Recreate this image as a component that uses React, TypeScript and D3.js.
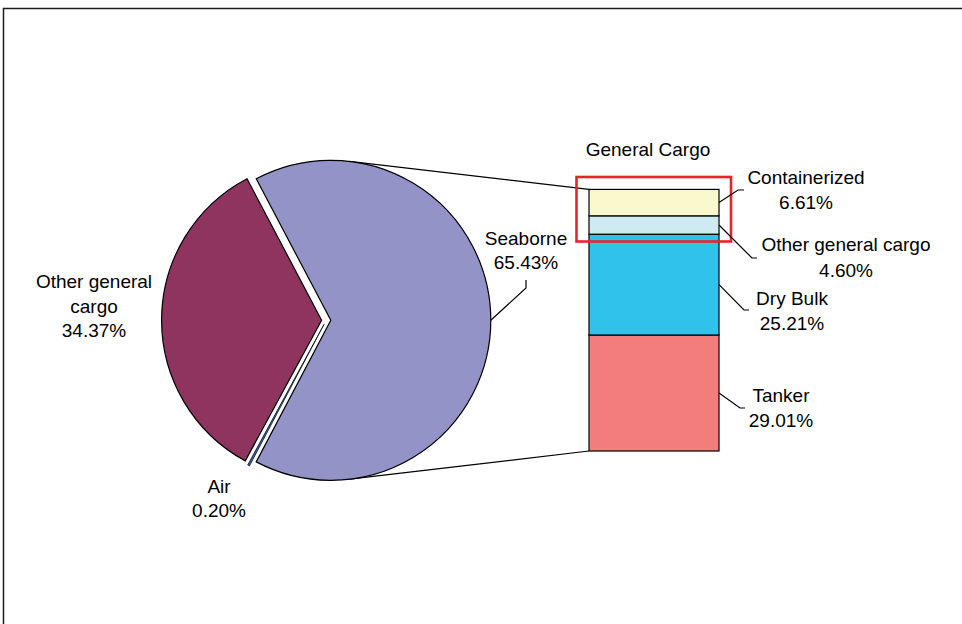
import React from "react";
import * as d3 from "d3";

// Share of trade by transport mode (pie) and breakdown of the seaborne share (bar)
const pieCategories = ["Seaborne", "Air", "Other general cargo"];
const pieValues = [65.43, 0.2, 34.37];
const pieColors = ["#9393C7", "#3A5CA8", "#8F335F"];

// Seaborne breakdown, stacked from the bottom up
const barCategories = ["Tanker", "Dry Bulk", "Other general cargo", "Containerized"];
const barValues = [29.01, 25.21, 4.6, 6.61];
const barColors = ["#F27D7C", "#31C2EC", "#CDEBF0", "#FAF8CD"];

const barTitle = "General Cargo";

const W = 962;
const H = 624;
const FONT = "'Liberation Sans', Arial, Helvetica, sans-serif";
const FS = 19;

export default function App() {
  const cx = 326.2;
  const cy = 320.3;
  const r = 160;
  const explode = 4.6;

  const seaFrac = pieValues[0] / d3.sum(pieValues);
  const start = Math.PI / 2 - seaFrac * Math.PI;
  const pie = d3
    .pie<number>()
    .sort(null)
    .value((d) => d)
    .startAngle(start)
    .endAngle(start + 2 * Math.PI);
  const arcs = pie(pieValues);
  const arc = d3.arc<d3.PieArcDatum<number>>().innerRadius(0).outerRadius(r);

  const offsets = arcs.map((a) => {
    const mid = (a.startAngle + a.endAngle) / 2;
    return [explode * Math.sin(mid), -explode * Math.cos(mid)];
  });

  // Bar geometry
  const barX0 = 589;
  const barX1 = 719;
  const total = d3.sum(barValues);
  const y = d3.scaleLinear().domain([0, total]).range([451, 189.4]);
  const cum: number[] = [];
  barValues.reduce((acc, v) => {
    cum.push(acc);
    return acc + v;
  }, 0);

  // Seaborne slice centre, used for the connector tangents
  const sx = cx + offsets[0][0];
  const sy = cy + offsets[0][1];
  const tangent = (px: number, py: number, sign: number) => {
    const dx = px - sx;
    const dy = py - sy;
    const d = Math.hypot(dx, dy);
    const base = Math.atan2(dy, dx);
    const t = base + sign * Math.acos(r / d);
    return [sx + r * Math.cos(t), sy + r * Math.sin(t)];
  };
  const topT = tangent(barX0, y(total), -1);
  const botT = tangent(barX0, y(0), 1);

  // Seaborne leader anchor on the slice's outer edge
  const seaMid = (arcs[0].startAngle + arcs[0].endAngle) / 2;
  const seaAnchor = [sx + r * Math.sin(seaMid), sy - r * Math.cos(seaMid)];

  const pct = (v: number) => `${v.toFixed(2)}%`;

  // Right-hand label layout for each bar segment
  const barLabelLayout = [
    { elbow: [740, 408], end: 745, tx: 781, lines: [402, 427] },
    { elbow: [744, 310], end: 749, tx: 792, lines: [305, 330] },
    { elbow: [752, 258], end: 757, tx: 846, lines: [251, 277] },
    { elbow: [738, 190], end: 744, tx: 806, lines: [184, 209] },
  ];

  return (
    <svg
      width={W}
      height={H}
      style={{ position: "absolute", left: 0, top: 0, background: "#fff" }}
      fontFamily={FONT}
      fontSize={FS}
    >
      <rect x={0} y={0} width={W} height={H} fill="#fff" />
      <rect x={3.5} y={8.5} width={980} height={660} fill="none" stroke="#1c1c1c" strokeWidth={1.5} />

      {/* connector lines from the seaborne slice to the bar */}
      <line x1={topT[0]} y1={topT[1]} x2={barX0} y2={y(total)} stroke="#000" strokeWidth={1.2} />
      <line x1={botT[0]} y1={botT[1]} x2={barX0} y2={y(0)} stroke="#000" strokeWidth={1.2} />

      {/* pie slices */}
      {arcs.map((a, i) => (
        <path
          key={pieCategories[i]}
          d={arc(a) || ""}
          transform={`translate(${cx + offsets[i][0]},${cy + offsets[i][1]})`}
          fill={pieColors[i]}
          stroke="#000"
          strokeWidth={i === 1 ? 0.7 : 1.2}
          strokeLinejoin="miter"
        />
      ))}

      {/* stacked bar */}
      {barValues.map((v, i) => (
        <rect
          key={barCategories[i]}
          x={barX0}
          y={y(cum[i] + v)}
          width={barX1 - barX0}
          height={y(cum[i]) - y(cum[i] + v)}
          fill={barColors[i]}
          stroke="#000"
          strokeWidth={1.2}
        />
      ))}

      {/* highlight box around the general cargo segments */}
      <rect x={576.5} y={177} width={154.5} height={64.5} fill="none" stroke="#E8232A" strokeWidth={2.6} />

      <text x={648} y={156} textAnchor="middle" fill="#000">
        {barTitle}
      </text>

      {/* bar segment labels */}
      {barValues.map((v, i) => {
        const L = barLabelLayout[i];
        const my = (y(cum[i]) + y(cum[i] + v)) / 2;
        return (
          <g key={barCategories[i]}>
            <polyline
              points={`${barX1},${my} ${L.elbow[0]},${L.elbow[1]} ${L.end},${L.elbow[1]}`}
              fill="none"
              stroke="#000"
              strokeWidth={1.2}
            />
            <text x={L.tx} y={L.lines[0]} textAnchor="middle">
              {barCategories[i]}
            </text>
            <text x={L.tx} y={L.lines[1]} textAnchor="middle">
              {pct(v)}
            </text>
          </g>
        );
      })}

      {/* pie labels */}
      <polyline
        points={`${seaAnchor[0]},${seaAnchor[1]} 526,288 526,280`}
        fill="none"
        stroke="#000"
        strokeWidth={1.2}
      />
      <text x={526} y={245} textAnchor="middle">
        {pieCategories[0]}
      </text>
      <text x={526} y={268.5} textAnchor="middle">
        {pct(pieValues[0])}
      </text>

      <text x={219} y={493} textAnchor="middle">
        {pieCategories[1]}
      </text>
      <text x={219} y={517} textAnchor="middle">
        {pct(pieValues[1])}
      </text>

      <text x={94} y={288} textAnchor="middle">
        Other general
      </text>
      <text x={94} y={312.5} textAnchor="middle">
        cargo
      </text>
      <text x={94} y={337} textAnchor="middle">
        {pct(pieValues[2])}
      </text>
    </svg>
  );
}
